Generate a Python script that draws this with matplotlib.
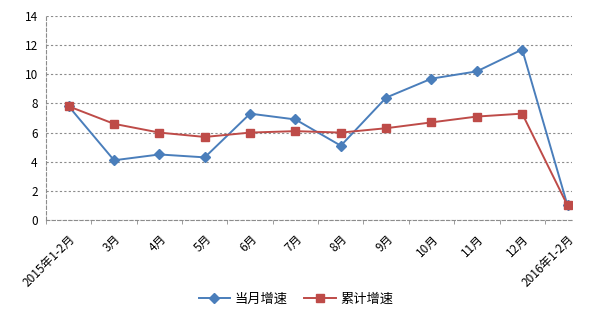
import matplotlib
matplotlib.use("Agg")
import matplotlib.pyplot as plt

plt.rcParams['font.family'] = ['Noto Sans CJK SC', 'DejaVu Sans']

months = ['2015年1-2月', '3月', '4月', '5月', '6月', '7月', '8月', '9月',
          '10月', '11月', '12月', '2016年1-2月']
monthly_growth = [7.8, 4.1, 4.5, 4.3, 7.3, 6.9, 5.1, 8.4, 9.7, 10.2, 11.7, 1.0]
cumulative_growth = [7.8, 6.6, 6.0, 5.7, 6.0, 6.1, 6.0, 6.3, 6.7, 7.1, 7.3, 1.0]

blue = '#4a7ebb'
red = '#be4b48'
grid_color = '#8c8c8c'

fig = plt.figure(figsize=(6.06, 3.26), dpi=100)
ax = fig.add_axes([0.076, 0.325, 0.868, 0.626])

x = list(range(len(months)))
ax.plot(x, monthly_growth, color=blue, lw=1.4, marker='D', ms=5.5,
        mfc=blue, mec=blue, label='当月增速', zorder=3)
ax.plot(x, cumulative_growth, color=red, lw=1.4, marker='s', ms=5.5,
        mfc=red, mec=red, label='累计增速', zorder=3)

ax.set_ylim(0, 14)
ax.set_yticks(range(0, 15, 2))
ax.set_xlim(-0.5, 11.1)
ax.set_xticks(x)
ax.set_xticklabels(months, rotation=45, ha='right', rotation_mode='anchor',
                   fontsize=8.5)
ax.tick_params(axis='y', length=0, pad=6, labelsize=8.5)
ax.tick_params(axis='x', length=0, pad=9)

# minor ticks sit between categories on the x axis
ax.set_xticks([i - 0.5 for i in range(len(months))], minor=True)
ax.tick_params(axis='x', which='minor', length=3, color=grid_color, width=0.6)

ax.yaxis.grid(True, color=grid_color, linestyle=(0, (2, 2)), lw=0.8)
ax.set_axisbelow(True)
for side in ['top', 'right']:
    ax.spines[side].set_visible(False)
for side in ['left', 'bottom']:
    ax.spines[side].set_color(grid_color)
    ax.spines[side].set_linestyle((0, (3, 2)))
    ax.spines[side].set_linewidth(0.8)

fig.legend(loc='center', bbox_to_anchor=(0.488, 0.083), ncol=2, frameon=False,
           fontsize=9.5, handlelength=2.4, columnspacing=1.3, handletextpad=0.3)

fig.savefig('out.png', dpi=100, facecolor='white')
